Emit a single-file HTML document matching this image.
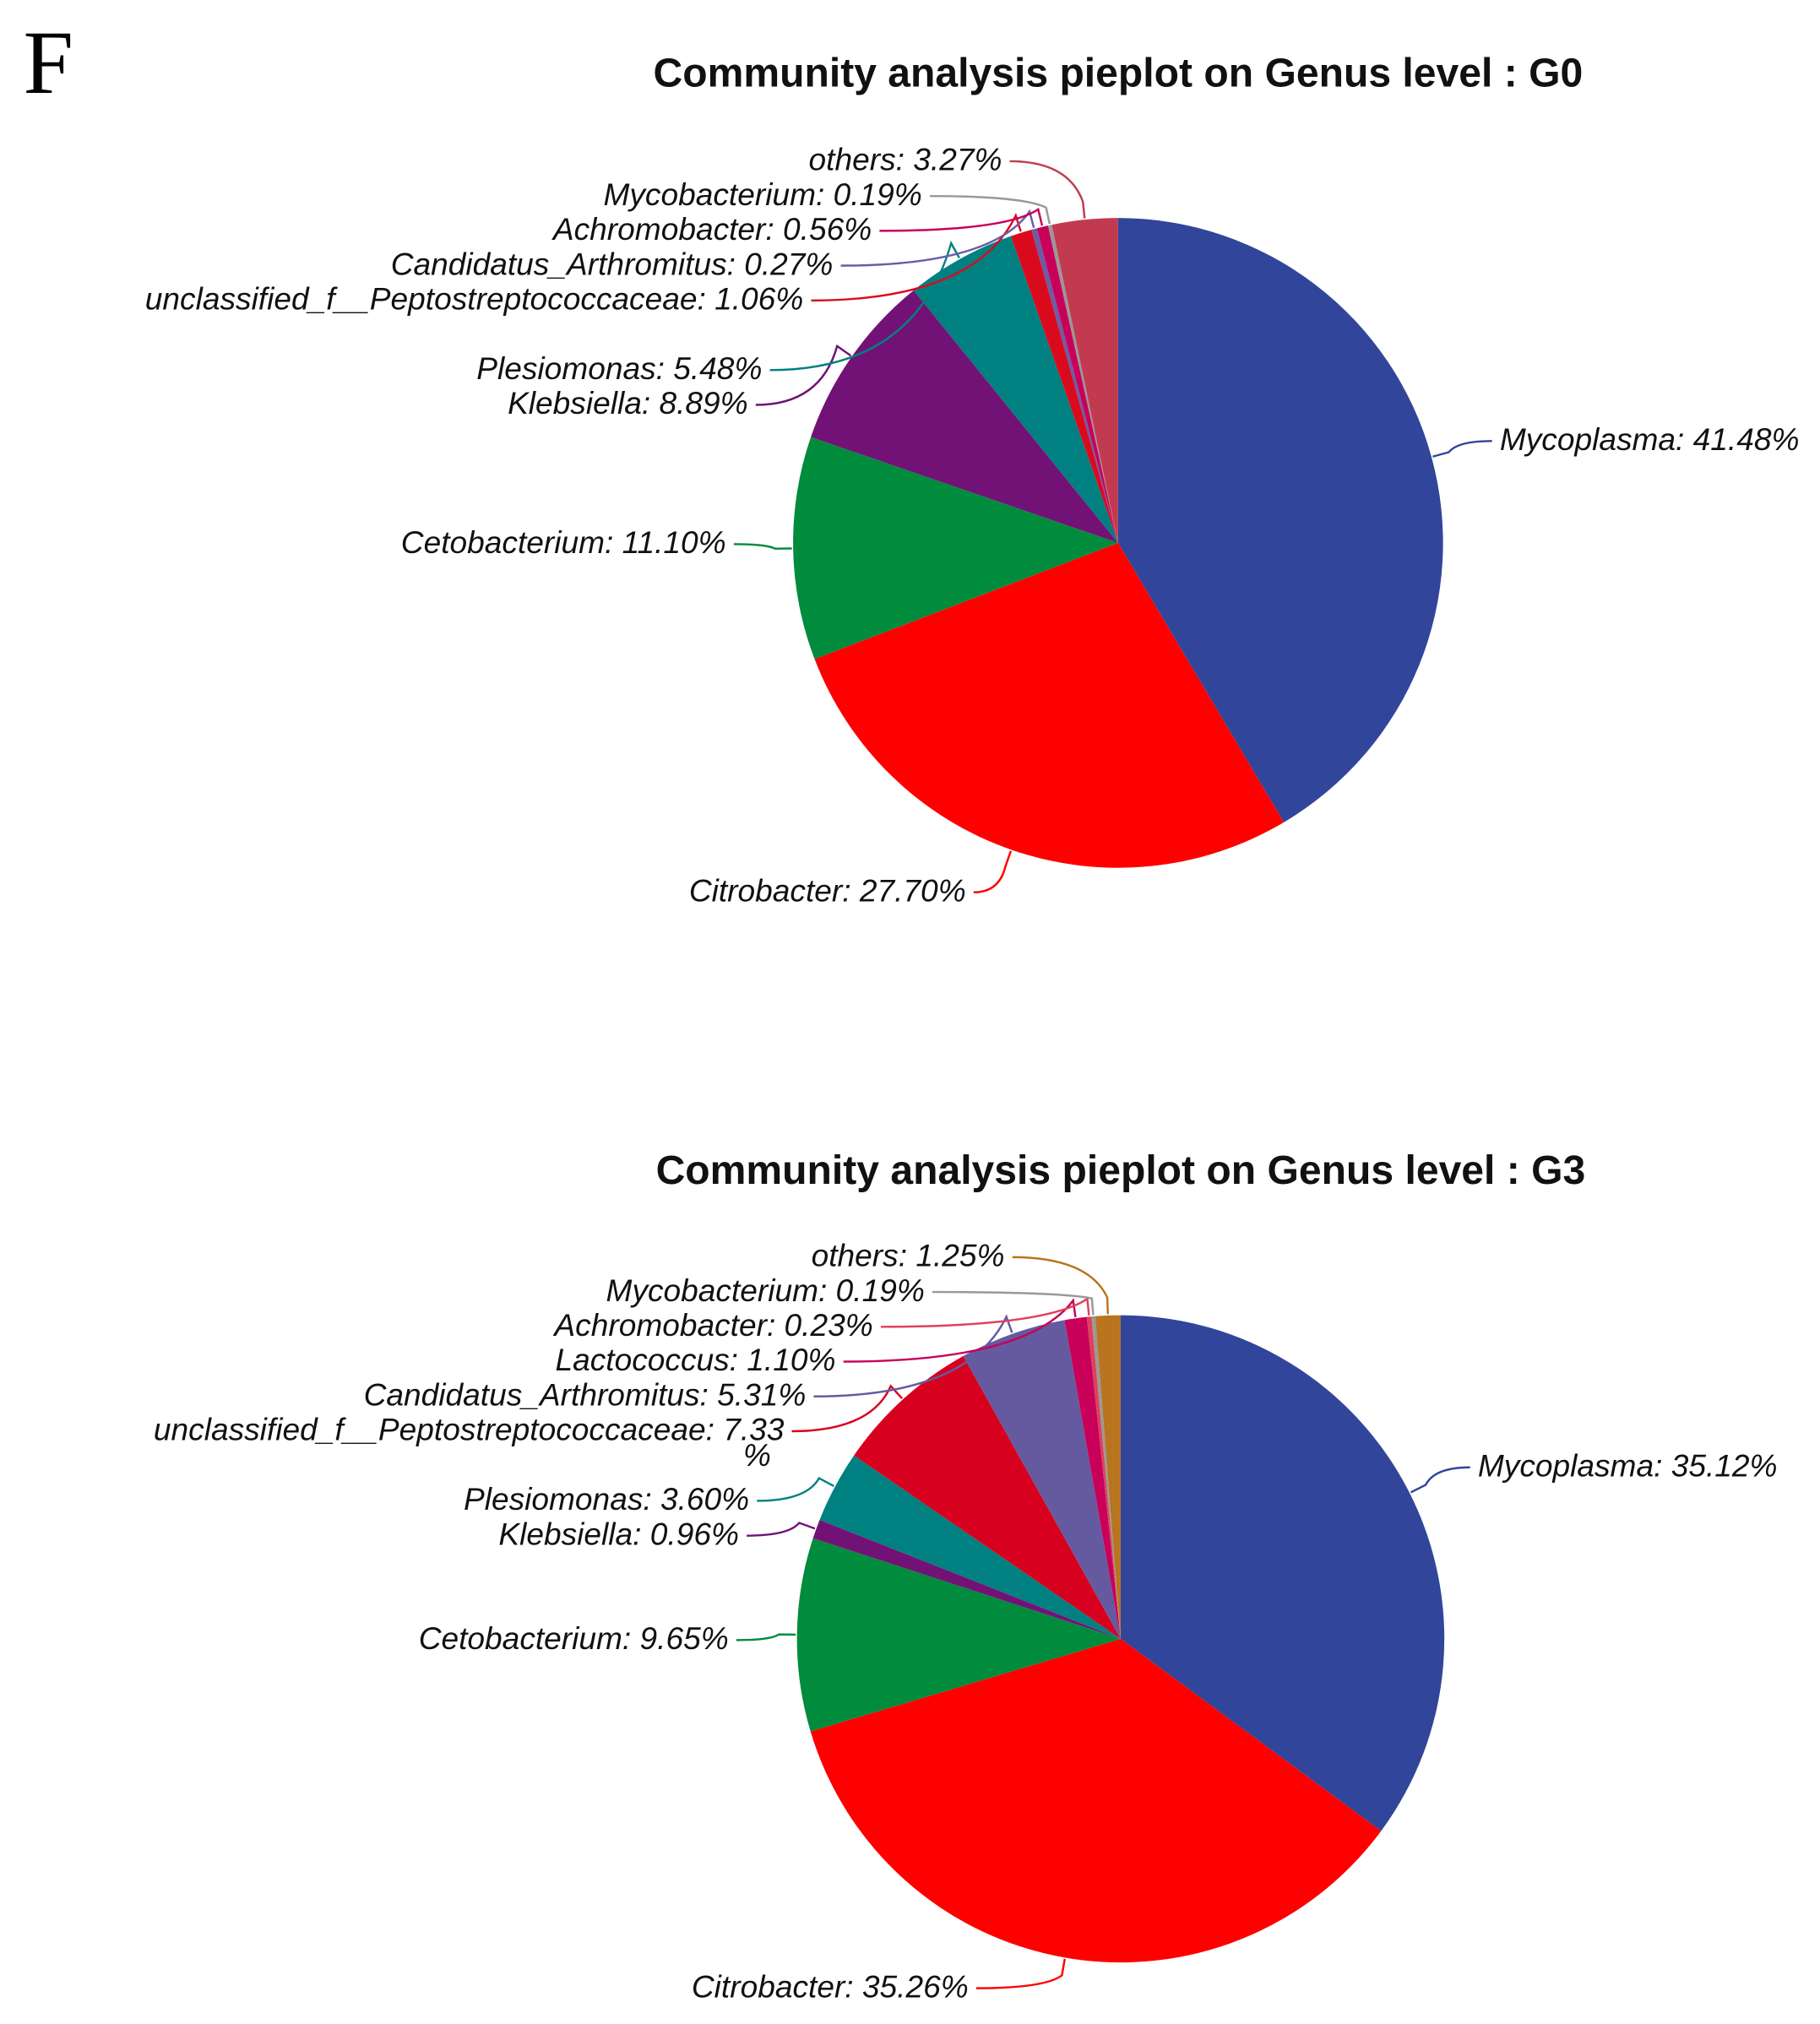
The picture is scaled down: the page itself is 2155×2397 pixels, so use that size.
<!DOCTYPE html>
<html><head><meta charset="utf-8"><style>
html,body{margin:0;padding:0;background:#fff;}
svg{display:block;}
text{font-family:"Liberation Sans",Arial,sans-serif;}
.lbl{font-size:24.3px;font-style:italic;fill:#111;}
.ttl{font-size:31.5px;font-weight:bold;fill:#111;}
</style></head><body>
<svg id="chart" width="2155" height="2397" viewBox="0 0 1411.3 1569.7" xmlns="http://www.w3.org/2000/svg">
<text x="18" y="72" style="font-family:'Liberation Serif',serif;font-size:70px;fill:#000;">F</text>
<text class="ttl" x="867" y="67" text-anchor="middle">Community analysis pieplot on Genus level : G0</text>
<text class="ttl" x="869" y="918" text-anchor="middle">Community analysis pieplot on Genus level : G3</text>
<g id="pie1"></g>
<g id="pie2"></g>
</svg>
<script>
const g0Names=["Mycoplasma","Citrobacter","Cetobacterium","Klebsiella","Plesiomonas","unclassified_f__Peptostreptococcaceae","Candidatus_Arthromitus","Achromobacter","Mycobacterium","others"];
const g0Values=[41.48,27.70,11.10,8.89,5.48,1.06,0.27,0.56,0.19,3.27];
const g0Colors=["#31469A","#FF0000","#008C3C","#731276","#008080","#DA0A1E","#6D5BA6","#C8005A","#999999","#C23A50"];
const g3Names=["Mycoplasma","Citrobacter","Cetobacterium","Klebsiella","Plesiomonas","unclassified_f__Peptostreptococcaceae","Candidatus_Arthromitus","Lactococcus","Achromobacter","Mycobacterium","others"];
const g3Values=[35.12,35.26,9.65,0.96,3.60,7.33,5.31,1.10,0.23,0.19,1.25];
const g3Colors=["#31469A","#FF0000","#008C3C","#731276","#008080","#D7001E","#655AA0","#C8005A","#E0405A","#999999","#B8741E"];
// label anchor spots (layout, not data): [x, baseline y, anchor]
const g0Lab=[[1163,349,"start"],[749,699,"end"],[563,429,"end"],[580,321,"end"],[591,294,"end"],[623,240,"end"],[646,213,"end"],[676,186,"end"],[715,159,"end"],[777,132,"end"]];
const g3Lab=[[1146,1145,"start"],[751,1549,"end"],[565,1279,"end"],[573,1198,"end"],[581,1171,"end"],[608,1117,"end"],[625,1090,"end"],[648,1063,"end"],[677,1036,"end"],[717,1009,"end"],[779,982,"end"]];
const NS="http://www.w3.org/2000/svg";
function drawPie(gid,names,vals,cols,labs,cx,cy,r){
  const g=document.getElementById(gid);
  const tot=vals.reduce((a,b)=>a+b,0);
  let a0=0;
  vals.forEach((v,i)=>{
    const a1=a0+v/tot*2*Math.PI;
    const p=(a)=>[cx+r*Math.sin(a),cy-r*Math.cos(a)];
    const s=p(a0),e=p(a1);
    const path=document.createElementNS(NS,"path");
    path.setAttribute("d",`M${cx},${cy}L${s[0]},${s[1]}A${r},${r} 0 ${a1-a0>Math.PI?1:0} 1 ${e[0]},${e[1]}Z`);
    path.setAttribute("fill",cols[i]);
    
    
    g.appendChild(path);
    const am=(a0+a1)/2;
    const [lx,ly,anc]=labs[i];
    const ex=anc==="end"?lx+6:lx-6, ey=ly-7;
    const sx=cx+(r+1)*Math.sin(am), sy=cy-(r+1)*Math.cos(am);
    const ox=cx+(r+14)*Math.sin(am), oy=cy-(r+14)*Math.cos(am);
    const ln=document.createElementNS(NS,"path");
    ln.setAttribute("d",`M${sx},${sy}L${ox},${oy}Q${ox+(ex-ox)*0.2},${ey} ${ex},${ey}`);
    ln.setAttribute("fill","none");ln.setAttribute("stroke",cols[i]);ln.setAttribute("stroke-width","1.6");
    
    
    g.appendChild(ln);
    const t=document.createElementNS(NS,"text");
    t.setAttribute("class","lbl");t.setAttribute("x",lx);t.setAttribute("y",ly);t.setAttribute("text-anchor",anc);
    let str=names[i]+": "+v.toFixed(2)+"%";
    if(gid==="pie2"&&i===5){str=names[i]+": "+v.toFixed(2);
      const t2=document.createElementNS(NS,"text");
      t2.setAttribute("class","lbl");t2.setAttribute("x",587);t2.setAttribute("y",ly+20);t2.setAttribute("text-anchor","middle");
      t2.textContent="%";
      
      
      g.appendChild(t2);}
    t.textContent=str;
    
    
    g.appendChild(t);
    a0=a1;
  });
}
drawPie("pie1",g0Names,g0Values,g0Colors,g0Lab,867,421,252);
drawPie("pie2",g3Names,g3Values,g3Colors,g3Lab,869,1271,251);
</script>
</body></html>
